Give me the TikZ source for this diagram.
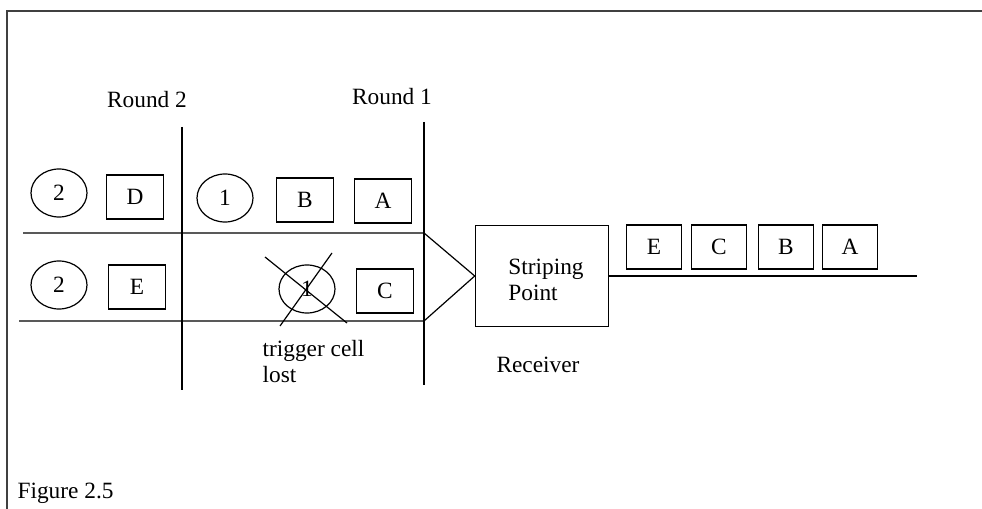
\documentclass[tikz,border=0pt]{standalone}
\usepackage{fontspec}
\setmainfont{Liberation Serif}
\usetikzlibrary{shapes.geometric}

\begin{document}
\begin{tikzpicture}[x=0.75pt, y=-0.75pt, line width=0.9pt,
  every node/.style={font=\fontsize{17.5}{19}\selectfont},
  cell/.style={draw, minimum width=43pt, minimum height=33pt, inner sep=0pt},
  trig/.style={draw, ellipse, minimum width=42pt, minimum height=36pt, inner sep=0pt},
  lbl/.style={inner sep=0pt, align=left}]
  \useasboundingbox (0,0) rectangle (982,509);

  % Rahmen
  \draw[line width=1.5pt, black!75] (7,509) -- (7,11) -- (982,11);

  % Runden
  \node[lbl] (r2) at (147,100) {Round 2};
  \node[lbl] (r1) at (392,97) {Round 1};
  \coordinate (r2top) at (182,127);
  \coordinate (r2bot) at (182,390);
  \coordinate (r1top) at (424,122);
  \coordinate (r1bot) at (424,385);
  \draw (r2top) -- (r2bot);
  \draw (r1top) -- (r1bot);

  % obere Leitung
  \node[trig] (t2a) at (59,193) {2};
  \node[cell] (d) at (135,197) {D};
  \node[trig] (t1) at (225,198) {1};
  \node[cell] (b) at (305,200) {B};
  \node[cell] (a) at (383,201) {A};

  % untere Leitung
  \node[trig] (t2b) at (59,285) {2};
  \node[cell] (e) at (137,287) {E};
  \node[trig] (lost) at (307,289) {1};
  \node[cell] (c) at (385,291) {C};
  \draw (265,257) -- (347,323);
  \draw (332,253) -- (280,326);
  \node[lbl, anchor=north west] (tl) at (262,340)
    {trigger cell\\lost};

  % Empfaenger
  \node[draw, minimum width=100pt, minimum height=76pt, inner sep=0pt] (sp) at (542,276) {};
  \node[lbl] (spt) at (546,280) {Striping\\Point};
  \node[lbl] (rx) at (538,365) {Receiver};

  \coordinate (ha) at (23,233);
  \coordinate (hb) at (19,321);
  \coordinate (ja) at (424,233);
  \coordinate (jb) at (424,321);
  \draw (ha) -- (ja) -- (sp.west) -- (jb) -- (hb);

  % Ausgang
  \coordinate (out) at (917,276);
  \draw (sp.east) -- (out);
  \node[cell, minimum width=41pt] (oe) at (654,247) {E};
  \node[cell, minimum width=41pt] (oc) at (719,247) {C};
  \node[cell, minimum width=41pt] (ob) at (786,247) {B};
  \node[cell, minimum width=41pt] (oa) at (850,247) {A};

  \node[lbl, anchor=west] (fig) at (17,493) {Figure 2.5};
\end{tikzpicture}
\end{document}
